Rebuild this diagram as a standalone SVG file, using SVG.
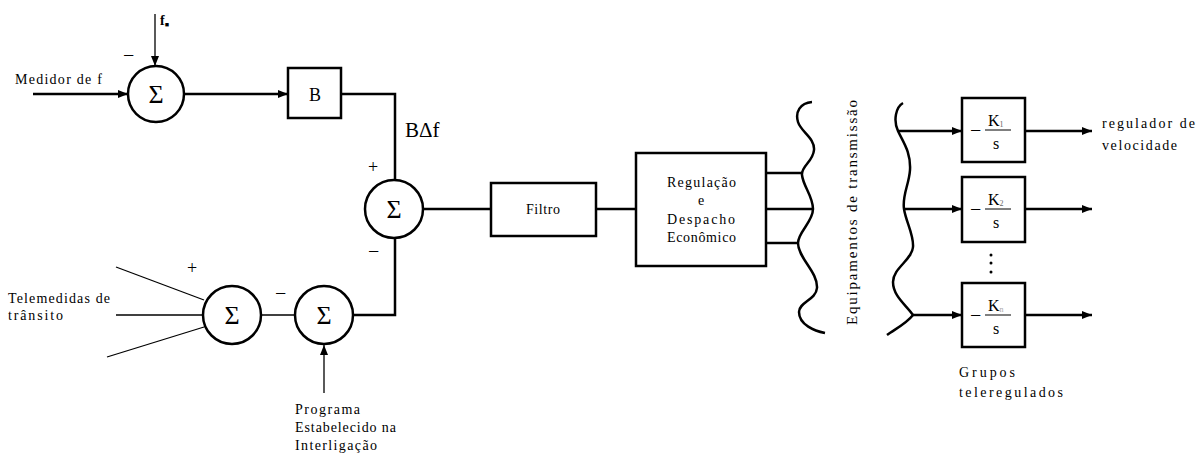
<svg xmlns="http://www.w3.org/2000/svg" width="1204" height="454" viewBox="0 0 1204 454">
<defs>
<marker id="arr" markerWidth="10" markerHeight="8" refX="10" refY="4" orient="auto" markerUnits="userSpaceOnUse">
<path d="M0,0 L10,4 L0,8 Z" fill="#000"/>
</marker>
<style>
.ln{fill:none;stroke:#000;stroke-width:2.5}
.th{fill:none;stroke:#000;stroke-width:1.3}
.bx{fill:#fff;stroke:#000;stroke-width:2.5}
.sum{fill:#fff;stroke:#000;stroke-width:2.5}
text{font-family:'Liberation Serif','DejaVu Serif','Times New Roman',serif;fill:#000}
.t{font-size:14px}
.sig{font-size:26px;text-anchor:middle}
.sg{font-size:18px}
.mn{font-size:20px}
.kk{font-size:16px}
</style>
</defs>
<rect width="1204" height="454" fill="#fff"/>

<g id="connectors">
<line class="th" x1="155" y1="14" x2="155" y2="66" marker-end="url(#arr)"/>
<line class="ln" x1="33" y1="94" x2="128" y2="94" marker-end="url(#arr)"/>
<line class="ln" x1="184" y1="94" x2="288" y2="94" marker-end="url(#arr)"/>
<polyline class="ln" points="341,94 395,94 395,180"/>
<line class="ln" x1="423" y1="209" x2="491" y2="209"/>
<line class="ln" x1="596" y1="209" x2="636" y2="209"/>
<line class="th" x1="116" y1="267" x2="204" y2="300"/>
<line class="th" x1="116" y1="315" x2="203" y2="315"/>
<line class="th" x1="107" y1="357" x2="204" y2="327"/>
<line class="th" x1="261" y1="315" x2="295" y2="315"/>
<polyline class="ln" points="353,315 395,315 395,238"/>
<line class="th" x1="324" y1="393" x2="324" y2="345" marker-end="url(#arr)"/>
<line class="ln" x1="766" y1="173" x2="803" y2="173"/>
<line class="ln" x1="766" y1="209" x2="813" y2="209"/>
<line class="ln" x1="766" y1="243" x2="798" y2="243"/>
<line class="ln" x1="898" y1="131" x2="962" y2="131" marker-end="url(#arr)"/>
<line class="ln" x1="904" y1="209" x2="962" y2="209" marker-end="url(#arr)"/>
<line class="ln" x1="913" y1="315" x2="962" y2="315" marker-end="url(#arr)"/>
<line class="ln" x1="1025" y1="131" x2="1092" y2="131" marker-end="url(#arr)"/>
<line class="ln" x1="1025" y1="209" x2="1092" y2="209" marker-end="url(#arr)"/>
<line class="ln" x1="1025" y1="315" x2="1092" y2="315" marker-end="url(#arr)"/>
</g>

<g id="sum1">
<circle class="sum" cx="156" cy="94" r="28"/>
<text class="sig" x="156" y="103">Σ</text>
<text class="mn" x="123" y="62">−</text>
</g>
<text class="t" x="160" y="25" font-weight="bold">f<tspan style="font-size:7px" dy="2">■</tspan></text>
<text class="t" x="15" y="84" textLength="87" lengthAdjust="spacing">Medidor de f</text>

<g id="B">
<rect class="bx" x="288" y="68" width="53" height="50"/>
<text x="315" y="101" text-anchor="middle" style="font-size:18px">B</text>
</g>
<text x="405" y="137" style="font-size:21px">BΔf</text>

<g id="sum2">
<circle class="sum" cx="394" cy="209" r="29"/>
<text class="sig" x="394" y="218">Σ</text>
<text class="sg" x="368" y="173">+</text>
<text class="mn" x="368" y="258">−</text>
</g>

<g id="filtro">
<rect class="bx" x="491" y="183" width="105" height="53"/>
<text class="t" x="526" y="214" textLength="34" lengthAdjust="spacing">Filtro</text>
</g>

<g id="regulacao">
<rect class="bx" x="636" y="153" width="130" height="113"/>
<text class="t" x="667" y="187" textLength="69" lengthAdjust="spacing">Regulação</text>
<text class="t" x="701" y="205" text-anchor="middle">e</text>
<text class="t" x="667" y="224" textLength="68" lengthAdjust="spacing">Despacho</text>
<text class="t" x="667" y="242" textLength="69" lengthAdjust="spacing">Econômico</text>
</g>

<g id="brace1">
<path class="ln" d="M812,102 C800,103 795,112 798,122 C801,132 815,138 814,150 C813,162 801,166 802,175 C803,186 813,196 813,209 C813,222 798,232 798,243 C798,258 818,272 817,288 C816,300 799,302 799,312 C799,325 815,331 825,333"/>
</g>
<text transform="translate(857,325) rotate(-90)" textLength="225" lengthAdjust="spacing" style="font-size:15px">Equipamentos de transmissão</text>

<g id="brace2">
<path class="ln" d="M903,103 C896,107 893,120 898,131 C903,142 911,152 910,170 C909,185 902,195 904,209 C906,222 914,235 913,247 C912,260 893,268 893,282 C893,296 906,305 913,315 C906,324 895,329 887,335"/>
</g>

<g id="K1">
<rect class="bx" x="962" y="98" width="63" height="64"/>
<text class="mn" x="970" y="137">−</text>
<text class="kk" x="988" y="126">K<tspan style="font-size:8px;fill:#666" dy="1">1</tspan></text>
<line x1="985" y1="130" x2="1011" y2="130" stroke="#000" stroke-width="1"/>
<text class="kk" x="993" y="149">s</text>
</g>
<g id="K2">
<rect class="bx" x="962" y="177" width="63" height="65"/>
<text class="mn" x="970" y="216">−</text>
<text class="kk" x="988" y="205">K<tspan style="font-size:8px;fill:#666" dy="1">2</tspan></text>
<line x1="985" y1="209" x2="1011" y2="209" stroke="#000" stroke-width="1"/>
<text class="kk" x="993" y="228">s</text>
</g>
<g id="dots">
<circle cx="991" cy="255" r="1.5" fill="#000"/>
<circle cx="991" cy="263" r="1.5" fill="#000"/>
<circle cx="991" cy="272" r="1.5" fill="#000"/>
</g>
<g id="Kn">
<rect class="bx" x="962" y="283" width="63" height="64"/>
<text class="mn" x="970" y="322">−</text>
<text class="kk" x="988" y="311">K<tspan style="font-size:8px;fill:#aaa" dy="1">n</tspan></text>
<line x1="985" y1="315" x2="1011" y2="315" stroke="#000" stroke-width="1"/>
<text class="kk" x="993" y="334">s</text>
</g>
<text class="t" x="1102" y="128" textLength="93" lengthAdjust="spacing">regulador de</text>
<text class="t" x="1102" y="150" textLength="75" lengthAdjust="spacing">velocidade</text>
<text class="t" x="959" y="377" textLength="56" lengthAdjust="spacing">Grupos</text>
<text class="t" x="959" y="397" textLength="104" lengthAdjust="spacing">teleregulados</text>

<g id="sum3">
<circle class="sum" cx="232" cy="315" r="29"/>
<text class="sig" x="232" y="324">Σ</text>
<text class="sg" x="187" y="274">+</text>
</g>
<g id="sum4">
<circle class="sum" cx="324" cy="315" r="29"/>
<text class="sig" x="324" y="324">Σ</text>
<text class="mn" x="275" y="300">−</text>
</g>
<text class="t" x="8" y="303" textLength="102" lengthAdjust="spacing">Telemedidas de</text>
<text class="t" x="8" y="320" textLength="55" lengthAdjust="spacing">trânsito</text>
<text class="t" x="295" y="414" textLength="65" lengthAdjust="spacing">Programa</text>
<text class="t" x="295" y="432" textLength="101" lengthAdjust="spacing">Estabelecido na</text>
<text class="t" x="295" y="450" textLength="82" lengthAdjust="spacing">Interligação</text>
</svg>
